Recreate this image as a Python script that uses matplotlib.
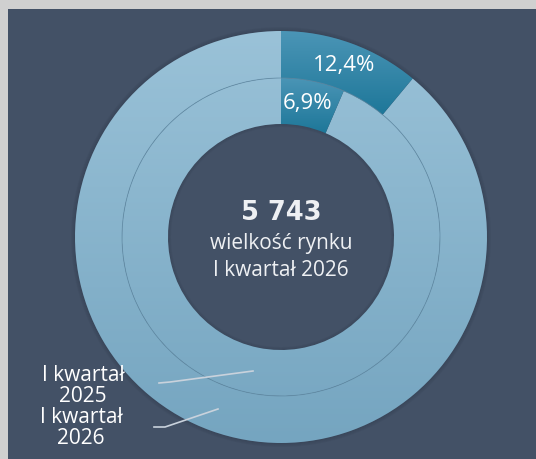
import numpy as np
import matplotlib
matplotlib.use('Agg')
import matplotlib.pyplot as plt
from matplotlib.patches import Rectangle, Circle, Wedge
from matplotlib.colors import LinearSegmentedColormap

# dane
rings = ['I kwartał 2025', 'I kwartał 2026']
shares = [6.9, 12.4]          # udział (%)
rest = [100, 100]             # pozostała część (wykres rysuje udział vs 100)
share_labels = ['6,9%', '12,4%']
total_value = '5 743'
center_lines = ['wielkość rynku', 'I kwartał 2026']
ring_labels = ['I kwartał\n2025', 'I kwartał\n2026']

plt.rcParams['font.family'] = ['Open Sans', 'DejaVu Sans']

W, H = 536, 459
fig = plt.figure(figsize=(W / 100, H / 100), dpi=100)
fig.patch.set_facecolor('#d0d0d0')
ax = fig.add_axes([0, 0, 1, 1])

cx, cy = 281, 222
r_out, r_mid, r_in = 206, 159, 113

light = LinearSegmentedColormap.from_list('light', ['#9ac2d8', '#75a5c0'])
dark = LinearSegmentedColormap.from_list('dark', ['#4b95b6', '#1c7698'])

outer, _ = ax.pie([shares[1], rest[1]], radius=r_out, center=(cx, cy),
                  startangle=90, counterclock=False, frame=True,
                  wedgeprops=dict(width=r_out - r_mid, edgecolor='none'))
inner, _ = ax.pie([shares[0], rest[0]], radius=r_mid, center=(cx, cy),
                  startangle=90, counterclock=False, frame=True,
                  wedgeprops=dict(width=r_mid - r_in, edgecolor='none'))
ax.set_xlim(0, W)
ax.set_ylim(0, H)
ax.set_aspect('auto')
ax.axis('off')

# ciemny panel
ax.add_patch(Rectangle((8, 0), W - 8, H - 9, facecolor='#435166', edgecolor='none', zorder=0))

# cień na zewnątrz pierścienia i wewnątrz otworu
for i, a in enumerate([0.06, 0.09, 0.13, 0.18]):
    ax.add_patch(Wedge((cx, cy), r_out + 4 - i, 0, 360, width=1.2, facecolor='#1a2230',
                       alpha=a, edgecolor='none', zorder=1))
    ax.add_patch(Wedge((cx, cy), r_in - 3 + i + 1.2, 0, 360, width=1.2, facecolor='#1a2230',
                       alpha=a, edgecolor='none', zorder=1))


def gradient_fill(wedge, cmap, y0, y1):
    grad = np.linspace(0, 1, 256).reshape(-1, 1)
    im = ax.imshow(grad, cmap=cmap, aspect='auto', origin='upper',
                   extent=(cx - r_out, cx + r_out, y0, y1), zorder=2)
    im.set_clip_path(wedge)


for w in outer + inner:
    w.set_facecolor('none')
gradient_fill(outer[1], light, cy - r_out, cy + r_out)
gradient_fill(inner[1], light, cy - r_out, cy + r_out)
gradient_fill(outer[0], dark, cy + r_mid * 0.75, cy + r_out)
gradient_fill(inner[0], dark, cy + r_in * 0.9, cy + r_mid)
ax.set_xlim(0, W)
ax.set_ylim(0, H)

# cienka linia między pierścieniami
ax.add_patch(Circle((cx, cy), r_mid, facecolor='none', edgecolor='#5f8aa4',
                    lw=0.6, alpha=0.8, zorder=3))

# etykiety udziałów
ax.text(344, H - 65, share_labels[1], color='white', fontsize=16,
        ha='center', va='center', zorder=4)
ax.text(308, H - 103, share_labels[0], color='white', fontsize=16,
        ha='center', va='center', zorder=4)

# tekst w środku
ax.text(cx, H - 213, total_value, color='#eef0f3', fontsize=18.5, fontweight='bold',
        family='DejaVu Sans', ha='center', va='center', zorder=4)
ax.text(cx, H - 244, center_lines[0], color='#eef0f3', fontsize=15,
        ha='center', va='center', zorder=4)
ax.text(cx, H - 270, center_lines[1], color='#eef0f3', fontsize=15,
        ha='center', va='center', zorder=4)

# etykiety pierścieni z liniami
ax.text(83, H - 386, ring_labels[0], color='white', fontsize=15, ha='center',
        va='center', linespacing=1.0, zorder=4)
ax.text(81, H - 428, ring_labels[1], color='white', fontsize=15, ha='center',
        va='center', linespacing=1.0, zorder=4)
ax.plot([159, 170, 253], [H - 383, H - 382, H - 371], color='#c9d2dc', lw=1.2, zorder=4)
ax.plot([154, 165, 218], [H - 427, H - 427, H - 409], color='#c9d2dc', lw=1.2, zorder=4)

fig.savefig('out.png', dpi=100)
